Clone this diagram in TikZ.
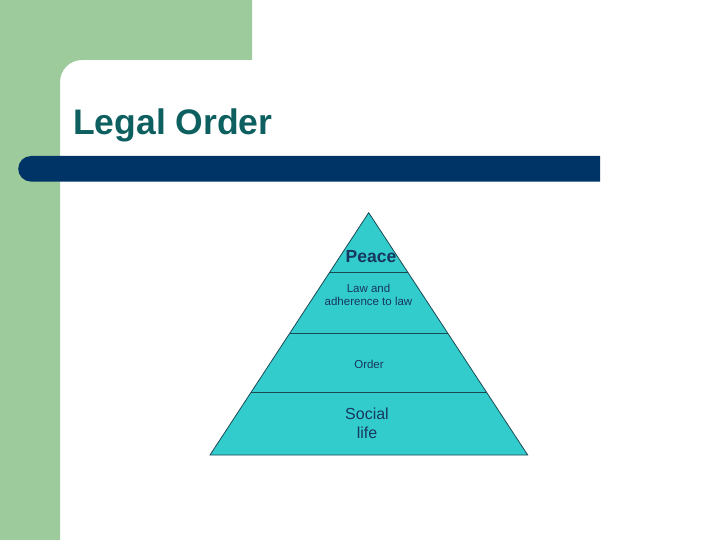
\documentclass[tikz,border=0pt]{standalone}
\usepackage{fontspec}
\setmainfont{Liberation Sans}
\usetikzlibrary{calc}
\definecolor{sidegreen}{HTML}{9DCB9B}
\definecolor{barblue}{HTML}{003366}
\definecolor{titleteal}{HTML}{0E5F5F}
\definecolor{pyrfill}{HTML}{33CCCC}
\definecolor{pyrtext}{HTML}{17375E}
\definecolor{pyrline}{HTML}{1B4A55}
\tikzset{
  pyrlabel/.style={text=pyrtext, align=center, inner sep=0pt, font=\fontsize{11.5}{13.5}\selectfont},
}
\begin{document}
\begin{tikzpicture}[x=1pt,y=-1pt]
\useasboundingbox (0,0) rectangle (720,540);
\fill[white] (0,0) rectangle (720,540);
% green background with rounded inner corner
\fill[sidegreen] (0,0) -- (252,0) -- (252,60) -- (82,60)
  arc[start angle=270, end angle=180, radius=22] -- (60,540) -- (0,540) -- cycle;
% title
\node[anchor=base west, inner sep=0pt, text=titleteal, font=\bfseries\fontsize{35.5}{40}\selectfont] (title) at (73,135) {Legal Order};
% bar
\fill[barblue] (600,156) -- (31,156) arc[start angle=270, end angle=90, radius=12.8] -- (600,181.6) -- cycle;
% pyramid
\coordinate (apex) at (368.7,212.7);
\coordinate (bl) at (210,455);
\coordinate (br) at (527.7,455);
\fill[pyrfill] (apex) -- (br) -- (bl) -- cycle;
\draw[pyrline, line width=0.8pt] (apex) -- (br) -- (bl) -- cycle;
\draw[pyrline, line width=0.8pt] ($(apex)!0.2463!(bl)$) -- ($(apex)!0.2463!(br)$);
\draw[pyrline, line width=0.8pt] ($(apex)!0.4982!(bl)$) -- ($(apex)!0.4982!(br)$);
\draw[pyrline, line width=0.8pt] ($(apex)!0.7434!(bl)$) -- ($(apex)!0.7434!(br)$);
\node[pyrlabel, font=\bfseries\fontsize{17.5}{20}\selectfont] (peace) at (371,257) {Peace};
\node[pyrlabel] (law) at (368.5,295) {Law and\\adherence to law};
\node[pyrlabel] (order) at (369,364) {Order};
\node[pyrlabel, font=\fontsize{16}{19}\selectfont] (social) at (367,423.5) {Social\\ life};
\end{tikzpicture}
\end{document}
